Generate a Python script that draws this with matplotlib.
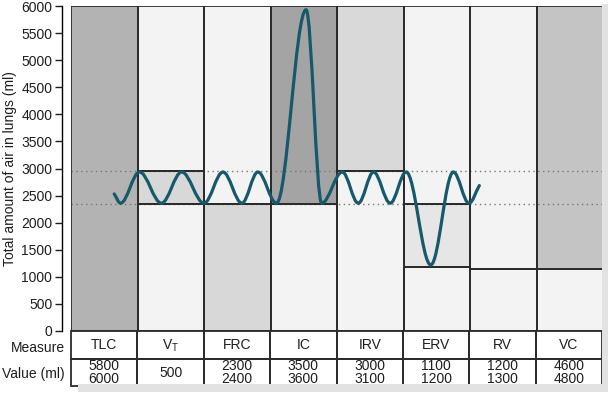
import matplotlib
matplotlib.use("Agg")
import matplotlib.pyplot as plt
from matplotlib.patches import Rectangle, PathPatch
from matplotlib.path import Path

plt.rcParams['font.family'] = ['Liberation Sans', 'DejaVu Sans']
plt.rcParams['mathtext.fontset'] = 'custom'
plt.rcParams['mathtext.rm'] = 'Liberation Sans'
plt.rcParams['mathtext.it'] = 'Liberation Sans'

# table content
measures = ['TLC', 'V$_\\mathrm{T}$', 'FRC', 'IC', 'IRV', 'ERV', 'RV', 'VC']
values = ['5800\n6000', '500', '2300\n2400', '3500\n3600', '3000\n3100',
          '1100\n1200', '1200\n1300', '4600\n4800']

# shaded blocks per column: (column, bottom, top, grey)
blk_col = [0, 1, 1, 1, 2, 2, 3, 3, 4, 4, 5, 5, 5, 6, 6, 7, 7]
blk_lo = [0, 2950, 2350, 0, 2350, 0, 2350, 0, 2950, 0, 2350, 1190, 0, 1150, 0, 1150, 0]
blk_hi = [6000, 6000, 2950, 2350, 6000, 2350, 6000, 2350, 6000, 2950, 6000, 2350, 1190, 6000, 1150, 6000, 1150]
blk_clr = ['#b3b3b3', '#f3f3f3', '#d8d8d8', '#f3f3f3', '#f3f3f3', '#d8d8d8',
           '#a4a4a4', '#f3f3f3', '#d9d9d9', '#f3f3f3', '#f3f3f3', '#e6e6e6',
           '#f3f3f3', '#f3f3f3', '#f3f3f3', '#c4c4c4', '#f3f3f3']

# breathing trace: turning points (x in column units, volume ml)
wave_x = [0.65, 0.745, 1.03, 1.36, 1.665, 2.0, 2.285, 2.57, 2.81, 3.09, 3.535,
          3.77, 4.08, 4.32, 4.55, 4.8, 5.04, 5.41, 5.75, 5.985, 6.14]
wave_y = [2530, 2360, 2935, 2360, 2935, 2360, 2935, 2360, 2935, 2360, 5930,
          2360, 2935, 2360, 2935, 2360, 2935, 1220, 2935, 2360, 2685]

W, H = 608, 399
fs = 10
ink = '#1e1e1e'
fig = plt.figure(figsize=(W / 100, H / 100), dpi=100)

# shadow behind the chart
fig.add_artist(Rectangle((78 / W, (H - 392) / H), 530 / W, 8 / H,
                         transform=fig.transFigure, color='#e2e2e2', lw=0))
fig.add_artist(Rectangle((602 / W, (H - 392) / H), 6 / W, 388 / H,
                         transform=fig.transFigure, color='#e2e2e2', lw=0))

ax = fig.add_axes([71 / W, (H - 331) / H, 532 / W, 325 / H])
ax.set_xlim(0, 8)
ax.set_ylim(0, 6000)

for c, lo, hi, clr in zip(blk_col, blk_lo, blk_hi, blk_clr):
    ax.add_patch(Rectangle((c, lo), 1, hi - lo, facecolor=clr, edgecolor='none', zorder=1))
for c, lo, hi in zip(blk_col, blk_lo, blk_hi):
    ax.add_patch(Rectangle((c, lo), 1, hi - lo, facecolor='none', edgecolor='#2b2b2b',
                           lw=1.3, zorder=3))

for lvl in [2950, 2350]:
    ax.axhline(lvl, color='#777777', ls=(0, (1, 2.5)), lw=1, zorder=2)

# smooth trace through the turning points
k = 0.36
verts = [(wave_x[0], wave_y[0])]
codes = [Path.MOVETO]
n = len(wave_x)
for i in range(n - 1):
    x0, y0, x1, y1 = wave_x[i], wave_y[i], wave_x[i + 1], wave_y[i + 1]
    dx = x1 - x0
    m0 = (y1 - y0) / dx if i == 0 else 0
    m1 = (y1 - y0) / dx if i == n - 2 else 0
    verts += [(x0 + k * dx, y0 + m0 * k * dx), (x1 - k * dx, y1 - m1 * k * dx), (x1, y1)]
    codes += [Path.CURVE4] * 3
ax.add_patch(PathPatch(Path(verts, codes), facecolor='none', edgecolor='#16596a',
                       lw=2.3, zorder=4, capstyle='round'))

for s in ['top', 'right', 'bottom']:
    ax.spines[s].set_visible(False)
ax.spines['left'].set_position(('outward', 6.5))
ax.spines['left'].set_linewidth(1.0)
ax.set_xticks([])
ax.set_yticks(range(0, 6001, 500))
ax.tick_params(axis='y', labelsize=fs, length=5, width=1, pad=2, colors=ink)
ax.set_ylabel('Total amount of air in lungs (ml)', fontsize=fs, labelpad=3, color=ink)

# table below
tb = fig.add_axes([71 / W, (H - 386) / H, 531 / W, 55 / H])
tb.set_xlim(0, 8)
tb.set_ylim(0, 2)
tb.axis('off')
tb.add_patch(Rectangle((0, 0), 8, 2, facecolor='white', edgecolor='none', zorder=0))
for i in range(8):
    for r in range(2):
        tb.add_patch(Rectangle((i, r), 1, 1, facecolor='none', edgecolor='#2b2b2b',
                               lw=1.3, zorder=2, clip_on=False))
    tb.text(i + 0.5, 1.48, measures[i], ha='center', va='center', fontsize=fs, color=ink)
    tb.text(i + 0.5, 0.48, values[i], ha='center', va='center', fontsize=fs,
            linespacing=0.88, color=ink)
tb.text(-0.09, 1.4, 'Measure', ha='right', va='center', fontsize=fs, color=ink)
tb.text(-0.09, 0.42, 'Value (ml)', ha='right', va='center', fontsize=fs, color=ink)

fig.savefig('out.png', dpi=100)
